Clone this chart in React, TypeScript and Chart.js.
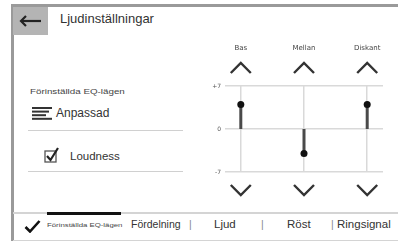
import React, { useEffect, useRef } from "react";
import { Chart, registerables } from "chart.js";

Chart.register(...registerables);

const bands = ["Bas", "Mellan", "Diskant"];
const eqValues = [4, -4, 4];
const yTicks = [-7, 0, 7];
const tabs = ["Fördelning", "Ljud", "Röst", "Ringsignal"];

const X_MIN = -0.25;
const X_MAX = 2.25;

const chevronPlugin = {
  id: "chevrons",
  afterDraw(chart: any) {
    const { ctx, chartArea, scales } = chart;
    ctx.save();
    ctx.strokeStyle = "#333";
    ctx.lineWidth = 2.4;
    ctx.lineJoin = "miter";
    bands.forEach((_, i) => {
      const cx = scales.x.getPixelForValue(i);
      const t = chartArea.top;
      const b = chartArea.bottom;
      ctx.beginPath();
      ctx.moveTo(cx - 10, t - 13);
      ctx.lineTo(cx, t - 23);
      ctx.lineTo(cx + 10, t - 13);
      ctx.stroke();
      ctx.beginPath();
      ctx.moveTo(cx - 10, b + 13);
      ctx.lineTo(cx, b + 23);
      ctx.lineTo(cx + 10, b + 13);
      ctx.stroke();
    });
    ctx.restore();
  },
};

const zeroPad = (s: any) => {
  s.paddingLeft = 0;
  s.paddingRight = 0;
  s.paddingTop = 0;
  s.paddingBottom = 0;
};

function EqChart() {
  const ref = useRef<HTMLCanvasElement>(null);
  useEffect(() => {
    const datasets = bands.map((b, i) => ({
      label: b,
      data: [
        { x: i, y: 0 },
        { x: i, y: eqValues[i] },
      ],
      borderColor: "#4a4a4a",
      borderWidth: 3,
      pointRadius: [0, 3.5],
      pointBackgroundColor: "#111",
      pointBorderWidth: 0,
      borderCapStyle: "butt",
    }));
    const chart = new Chart(ref.current!, {
      type: "scatter",
      data: { datasets } as any,
      plugins: [chevronPlugin],
      options: {
        animation: false,
        responsive: false,
        showLine: true,
        layout: { padding: { left: 0, right: 15, top: 0, bottom: 33 } },
        plugins: { legend: { display: false }, tooltip: { enabled: false } },
        scales: {
          x: {
            type: "linear",
            position: "top",
            min: X_MIN,
            max: X_MAX,
            offset: false,
            afterBuildTicks: (s: any) => {
              s.ticks = bands.map((_, i) => ({ value: i }));
              s.min = X_MIN;
              s.max = X_MAX;
            },
            afterFit: (s: any) => {
              s.height = 56;
              zeroPad(s);
            },
            grid: { color: "#d9d9d9", lineWidth: 1.5, drawTicks: false, offset: false },
            border: { display: false },
            ticks: {
              padding: 34,
              color: "#444",
              font: { family: "DejaVu Sans", size: 7 },
              maxRotation: 0,
              autoSkip: false,
              callback: (v: any) => bands[v],
            },
          },
          y: {
            min: -7,
            max: 7,
            afterBuildTicks: (s: any) => {
              s.ticks = yTicks.map((v) => ({ value: v }));
              s.min = -7;
              s.max = 7;
            },
            afterFit: (s: any) => {
              s.width = 25;
              zeroPad(s);
            },
            grid: { color: "#d9d9d9", lineWidth: 1.5, drawTicks: false },
            border: { display: false },
            ticks: {
              padding: 4,
              color: "#555",
              font: { family: "DejaVu Sans", size: 6 },
              callback: (v: any) => (v > 0 ? "+" + v : String(v)),
            },
          },
        },
      } as any,
    });
    return () => chart.destroy();
  }, []);
  return (
    <canvas
      ref={ref}
      width={198}
      height={175}
      style={{ position: "absolute", left: 200, top: 30, width: 198, height: 175 }}
    />
  );
}

export default function App() {
  const sans = "'Liberation Sans', Arial, sans-serif";
  const abs = (s: React.CSSProperties): React.CSSProperties => ({ position: "absolute", ...s });
  return (
    <div
      style={{
        position: "fixed",
        left: 0,
        top: 0,
        width: 398,
        height: 241,
        background: "#fff",
        overflow: "hidden",
        fontFamily: sans,
        color: "#333",
      }}
    >
      {/* frame */}
      <div style={abs({ left: 11, top: 4, width: 387, height: 3, background: "#9a9a9a" })} />
      <div style={abs({ left: 11, top: 4, width: 2.5, height: 237, background: "#9a9a9a" })} />
      {/* back button */}
      <div style={abs({ left: 13, top: 7, width: 35, height: 28, background: "#b4b4b4" })} />
      <svg style={abs({ left: 19, top: 14, width: 24, height: 14 })} viewBox="0 0 24 14">
        <path d="M2 7 H22" stroke="#222" strokeWidth="2.2" />
        <path d="M7 2 L2 7 L7 12" stroke="#222" strokeWidth="2.2" fill="none" />
      </svg>
      <div style={abs({ left: 60, top: 11, fontSize: 13, whiteSpace: "nowrap", color: "#333" })}>
        Ljudinställningar
      </div>

      {/* left panel */}
      <div
        style={abs({
          left: 30,
          top: 88,
          fontSize: 7,
          whiteSpace: "nowrap",
          transform: "scaleX(1.4)",
          transformOrigin: "left top",
          color: "#444",
        })}
      >
        Förinställda EQ-lägen
      </div>
      <svg style={abs({ left: 32, top: 107, width: 21, height: 13 })} viewBox="0 0 21 13">
        <rect x="0" y="0" width="20" height="2" fill="#333" />
        <rect x="0" y="3.6" width="17" height="2" fill="#333" />
        <rect x="0" y="7.2" width="14" height="2" fill="#333" />
        <rect x="0" y="10.8" width="20" height="2" fill="#333" />
      </svg>
      <div style={abs({ left: 56, top: 106, fontSize: 12, whiteSpace: "nowrap" })}>Anpassad</div>
      <div style={abs({ left: 28, top: 129.5, width: 155, height: 1.5, background: "#d0d0d0" })} />
      <svg style={abs({ left: 44, top: 147, width: 16, height: 17 })} viewBox="0 0 16 17">
        <rect x="1" y="4" width="11" height="11" fill="none" stroke="#555" strokeWidth="1.3" />
        <path d="M3 9 L6.5 13 L14 1" stroke="#222" strokeWidth="2.2" fill="none" />
      </svg>
      <div style={abs({ left: 70, top: 150, fontSize: 11.5, whiteSpace: "nowrap" })}>Loudness</div>
      <div style={abs({ left: 28, top: 170.5, width: 155, height: 1.5, background: "#d0d0d0" })} />

      <EqChart />

      {/* bottom tabs */}
      <div style={abs({ left: 13, top: 212, width: 385, height: 2, background: "#d4d4d4" })} />
      <div style={abs({ left: 47, top: 211.5, width: 74, height: 3.5, background: "#111" })} />
      <div style={abs({ left: 13, top: 239.5, width: 385, height: 1.5, background: "#d4d4d4" })} />
      <svg style={abs({ left: 24, top: 220, width: 17, height: 13 })} viewBox="0 0 17 13">
        <path d="M1.5 7 L6 11.5 L15.5 1" stroke="#111" strokeWidth="2.6" fill="none" />
      </svg>
      <div
        style={abs({
          left: 47,
          top: 222,
          fontSize: 6,
          whiteSpace: "nowrap",
          transform: "scaleX(1.3)",
          transformOrigin: "left top",
          color: "#444",
        })}
      >
        Förinställda EQ-lägen
      </div>
      <div style={abs({ left: 131, top: 218, fontSize: 10.5, whiteSpace: "nowrap" })}>{tabs[0]}</div>
      <div style={abs({ left: 189, top: 218, fontSize: 10.5, color: "#888" })}>|</div>
      <div style={abs({ left: 214, top: 218, fontSize: 11.5, whiteSpace: "nowrap" })}>{tabs[1]}</div>
      <div style={abs({ left: 261, top: 218, fontSize: 10.5, color: "#888" })}>|</div>
      <div style={abs({ left: 287, top: 218, fontSize: 11.5, whiteSpace: "nowrap" })}>{tabs[2]}</div>
      <div style={abs({ left: 331, top: 218, fontSize: 10.5, color: "#888" })}>|</div>
      <div style={abs({ left: 337, top: 218, fontSize: 11.5, whiteSpace: "nowrap" })}>{tabs[3]}</div>
    </div>
  );
}
